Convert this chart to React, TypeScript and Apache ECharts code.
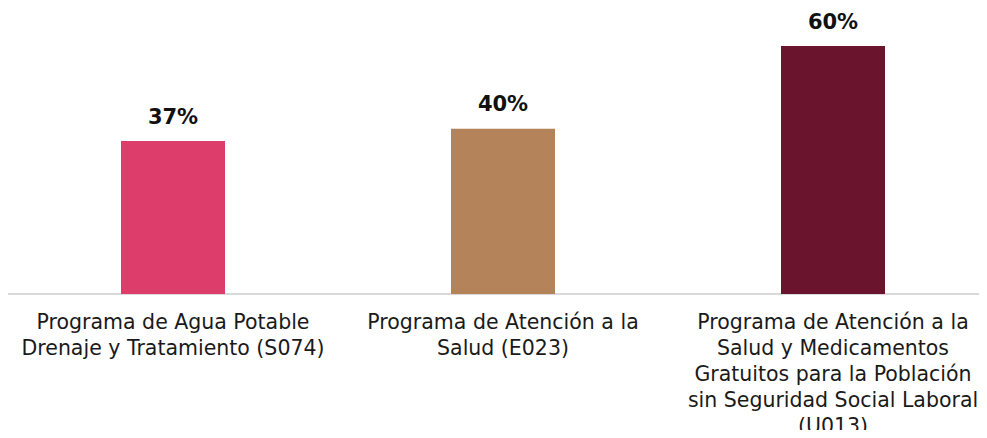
import React, { useEffect, useRef } from "react";
import * as echarts from "echarts";

const categories = [
  "Programa de Agua Potable\nDrenaje y Tratamiento (S074)",
  "Programa de Atención a la\nSalud (E023)",
  "Programa de Atención a la\nSalud y Medicamentos\nGratuitos para la Población\nsin Seguridad Social Laboral\n(U013)",
];
const values = [37, 40, 60];
const colors = ["#DC3D6B", "#B5835A", "#6A142D"];

export default function App() {
  const ref = useRef<HTMLDivElement>(null);
  useEffect(() => {
    if (!ref.current) return;
    const chart = echarts.init(ref.current, undefined, { renderer: "svg" });
    chart.setOption({
      animation: false,
      grid: { left: 0, right: -11, top: 38, bottom: 144, outerBoundsMode: "none", containLabel: false },
      xAxis: {
        type: "category",
        data: categories,
        axisLine: { lineStyle: { color: "#D9D9D9", width: 2 } },
        axisTick: { show: false },
        axisLabel: {
          interval: 0,
          color: "#1A1A1A",
          fontFamily: "DejaVu Sans",
          fontSize: 20.5,
          lineHeight: 26,
          margin: 15,
        },
      },
      yAxis: { type: "value", min: 0, max: 60, show: false, splitLine: { show: false } },
      series: [
        {
          type: "bar",
          barWidth: 104,
          data: values.map((v, i) => ({ value: v, itemStyle: { color: colors[i] } })),
          label: {
            show: true,
            position: "top",
            distance: 14,
            formatter: "{c}%",
            color: "#111",
            fontFamily: "DejaVu Sans",
            fontWeight: "bold",
            fontSize: 21,
          },
        },
      ],
    });
    return () => chart.dispose();
  }, []);
  return <div ref={ref} style={{ width: 979, height: 430, marginBottom: -8 }} />;
}
